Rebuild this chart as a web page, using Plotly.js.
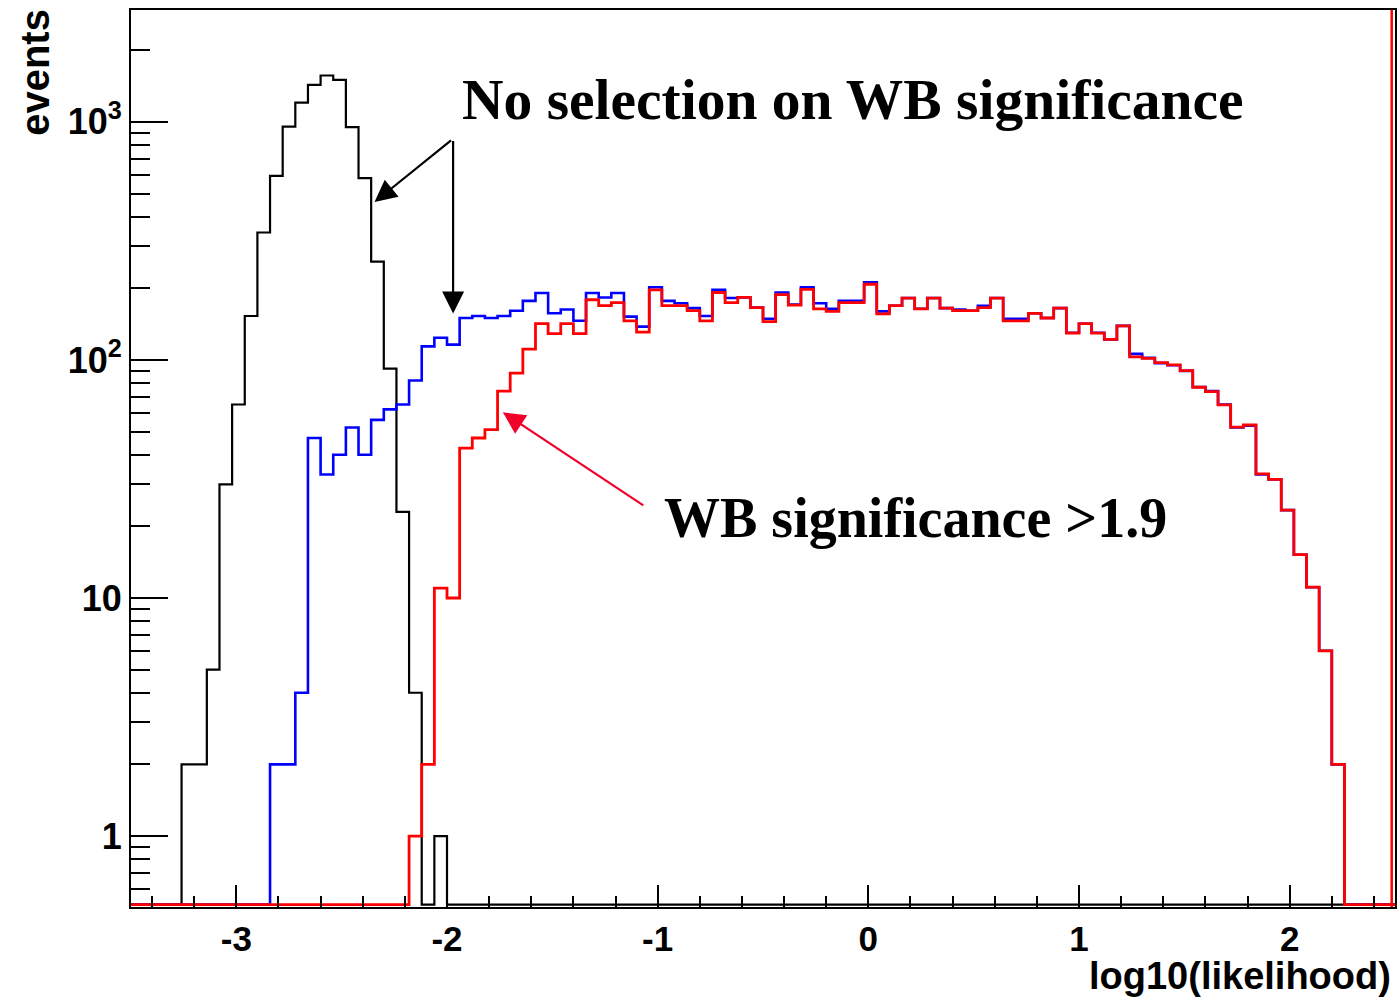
<!DOCTYPE html>
<html>
<head>
<meta charset="utf-8">
<script src="https://cdn.plot.ly/plotly-3.0.1.min.js"></script>
<style>html,body{margin:0;padding:0;background:#fff;}#plot{width:1399px;height:1002px;}</style>
</head>
<body>
<div id="plot"></div>
<script>
// ---- histogram binning (100 bins from -3.5 to 2.5) ----
const binLow = -3.5;
const binWidth = 0.06;
const nBins = 100;

// ---- series: events per bin (0 = empty bin) ----
const noSelection = [0,0,0,0,2,2,5,30,65,153,343,593,955,1205,1430,1566,1501,950,580,259,92,23,4,0,1,
  0,0,0,0,0,0,0,0,0,0,0,0,0,0,0,0,0,0,0,0,0,0,0,0,0,0,0,0,0,0,0,0,0,0,0,0,0,0,0,0,0,0,0,0,0,0,0,0,0,0,
  0,0,0,0,0,0,0,0,0,0,0,0,0,0,0,0,0,0,0,0,0,0,0,0,0];
const noSelectionLate = [0,0,0,0,0,0,0,0,0,0,0,2,2,4,47,33,40,52,40,56,62,65,82,114,124,
  116,150,153,150,153,161,177,191,157,163,146,191,183,191,152,138,202,177,173,165,153,197,182,183,166,
  149,192,171,202,173,164,177,177,212,160,169,182,164,182,165,163,161,169,182,149,149,157,150,165,130,
  142,130,122,139,106,102,97,95,90,77,74,65,52,53,33,31.5,23.4,15.2,11.1,6,2,0,0,0,0];
const wbSig = [0,0,0,0,0,0,0,0,0,0,0,0,0,0,0,0,0,0,0,0,0,0,1,2,11,
  10,42.6,47,51,74,88,111,142,129,142,129,179,169,174,146,131,197,169,169,161,146,192,174,183,166,
  145,188,170,198,164,160,174,174,208,156,169,182,164,182,165,161,161,166,182,146,146,157,150,165,129.5,
  142,129.5,122,139,103,101.6,97.4,95.3,90.2,76.8,73.6,64.7,52.2,53.3,33.2,31.5,23.4,15.2,11.1,6,2,0,0,0,0];

// ---- axis ticks ----
const xTickVals = [-3,-2,-1,0,1,2];
const xTickText = ["-3","-2","-1","0","1","2"];
const yTickVals = [1,10,100,1000];
const yTickText = ["1","10","10<sup>2</sup>","10<sup>3</sup>"];
const yMinorVals = [0.6,0.7,0.8,0.9,2,3,4,5,6,7,8,9,20,30,40,50,60,70,80,90,200,300,400,500,600,700,800,900,2000,3000];

const xRange = [-3.5, 2.5];
const yRangeLog = [-0.298, 3.47];
// empty bins are drawn on the bottom edge, as ROOT does on a log scale
const floorVal = Math.pow(10, yRangeLog[0] + 0.010);

function stepTrace(vals, color, width) {
  const xs = [binLow], ys = [floorVal];
  for (let k = 0; k < nBins; k++) {
    xs.push(binLow + k * binWidth);
    ys.push(vals[k] > 0 ? vals[k] : floorVal);
  }
  const last = vals[nBins - 1] > 0 ? vals[nBins - 1] : floorVal;
  xs.push(binLow + nBins * binWidth); ys.push(last);
  xs.push(binLow + nBins * binWidth); ys.push(floorVal);
  return {x: xs, y: ys, type: 'scatter', mode: 'lines',
          line: {shape: 'hv', color: color, width: width}, hoverinfo: 'skip', showlegend: false};
}

const traces = [
  stepTrace(noSelection, '#000000', 2.2),
  stepTrace(noSelectionLate, '#0000ff', 2.6),
  stepTrace(wbSig, '#ff0000', 2.8)
];

const tickFont = {family: 'Liberation Sans, Arial, sans-serif', size: 35, color: '#000', weight: 'bold'};
const serifFont = {family: 'Liberation Serif, Times New Roman, serif', size: 56, color: '#000', weight: 'bold'};

const layout = {
  width: 1399, height: 1002,
  margin: {l: 131, r: 4, t: 10, b: 95},
  paper_bgcolor: '#fff', plot_bgcolor: '#fff',
  showlegend: false,
  xaxis: {
    range: xRange, showgrid: false, zeroline: false,
    showline: true, mirror: true, linecolor: '#000', linewidth: 2,
    tickmode: 'array', tickvals: xTickVals, ticktext: xTickText,
    ticks: 'inside', ticklen: 22, tickwidth: 2, tickcolor: '#000',
    tickfont: tickFont,
    minor: {dtick: 0.2, tick0: 0, ticks: 'inside', ticklen: 11, tickwidth: 2, tickcolor: '#000', showgrid: false}
  },
  yaxis: {
    type: 'log', range: yRangeLog, showgrid: false, zeroline: false,
    showline: true, mirror: true, linecolor: '#000', linewidth: 2,
    tickmode: 'array', tickvals: yTickVals, ticktext: yTickText,
    ticks: 'inside', ticklen: 37, tickwidth: 2, tickcolor: '#000',
    tickfont: {family: 'Liberation Sans, Arial, sans-serif', size: 36, color: '#000', weight: 'bold'},
    minor: {tickvals: yMinorVals, ticks: 'inside', ticklen: 19, tickwidth: 2, tickcolor: '#000', showgrid: false}
  },
  shapes: [
    {type: 'line', xref: 'paper', yref: 'paper', x0: 0.9974, x1: 0.9974, y0: 0, y1: 1,
     line: {color: '#ff0000', width: 2.5}}
  ],
  annotations: [
    {xref: 'paper', yref: 'paper', x: -0.076, y: 0.931, text: 'events', textangle: -90,
     showarrow: false, xanchor: 'center', yanchor: 'middle',
     font: {family: 'Liberation Sans, Arial, sans-serif', size: 40, color: '#000', weight: 'bold'}},
    {xref: 'paper', yref: 'paper', x: 0.9985, y: -0.1025, text: 'log10(likelihood)',
     showarrow: false, xanchor: 'right', yanchor: 'bottom',
     font: {family: 'Liberation Sans, Arial, sans-serif', size: 38, color: '#000', weight: 'bold'}},
    {xref: 'paper', yref: 'paper', x: 0.2603, y: 0.8997, text: 'No selection on WB significance',
     showarrow: false, xanchor: 'left', yanchor: 'middle', font: {family: 'Liberation Serif, Times New Roman, serif', size: 57.5, color: '#000', weight: 'bold'}},
    {xref: 'paper', yref: 'paper', x: 0.42, y: 0.4337, text: 'WB significance &gt;1.9',
     showarrow: false, xanchor: 'left', yanchor: 'middle', font: serifFont},
    {xref: 'x', yref: 'y', x: -2.344, y: 2.663, text: '', showarrow: true, axref: 'pixel', ayref: 'pixel',
     ax: 78, ay: -63, arrowhead: 2, arrowsize: 2, arrowwidth: 2.2, arrowcolor: '#000', standoff: 0},
    {xref: 'x', yref: 'y', x: -1.971, y: 2.195, text: '', showarrow: true, axref: 'pixel', ayref: 'pixel',
     ax: 0, ay: -174, arrowhead: 2, arrowsize: 2, arrowwidth: 2.2, arrowcolor: '#000', standoff: 0},
    {xref: 'x', yref: 'y', x: -1.735, y: 1.780, text: '', showarrow: true, axref: 'pixel', ayref: 'pixel',
     ax: 142, ay: 94, arrowhead: 2, arrowsize: 2, arrowwidth: 2.2, arrowcolor: '#f0002a', standoff: 0}
  ]
};

Plotly.newPlot('plot', traces, layout, {displayModeBar: false, staticPlot: true});
</script>
</body>
</html>
